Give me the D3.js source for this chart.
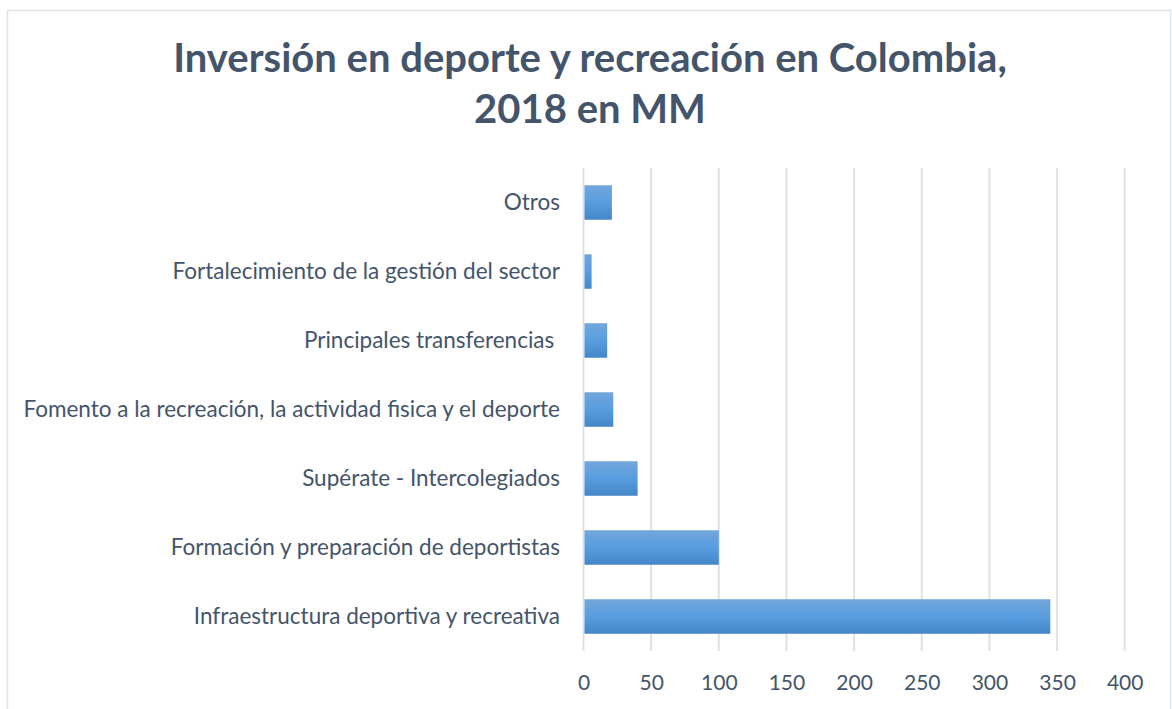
<!DOCTYPE html>
<html>
<head>
<meta charset="utf-8">
<script src="https://cdn.jsdelivr.net/npm/d3@7"></script>
<style>
  html, body { margin: 0; padding: 0; background: #fff; }
  svg { display: block; }
  text { font-family: Lato, "Open Sans", "Noto Sans", sans-serif; }
</style>
</head>
<body>
<svg id="chart" width="1172" height="709"></svg>
<script>
// Inversión por programa, 2018 (miles de millones de pesos)
const categories = [
  "Otros",
  "Fortalecimiento de la gestión del sector",
  "Principales transferencias ",
  "Fomento a la recreación, la actividad fisica y el deporte",
  "Supérate - Intercolegiados",
  "Formación y preparación de deportistas",
  "Infraestructura deportiva y recreativa"
];
const values = [21, 6, 17.5, 22, 40, 100, 345];
const xTicks = [0, 50, 100, 150, 200, 250, 300, 350, 400];
const titleLines = ["Inversión en deporte y recreación en Colombia,", "2018 en MM"];

const svg = d3.select("#chart");
const textColor = "#44546a";
const gridColor = "#dde1e8";

// chart frame
svg.append("rect")
  .attr("x", 7.5).attr("y", 10.5)
  .attr("width", 1163).attr("height", 720)
  .attr("fill", "#fff")
  .attr("stroke", "#dfe3ea").attr("stroke-width", 1.5);

const plot = { left: 583.5, right: 1124.7, top: 168, bottom: 651 };

const x = d3.scaleLinear().domain([0, 400]).range([plot.left, plot.right]);
const y = d3.scaleBand().domain(categories).range([plot.top, plot.bottom]).paddingInner(0.5).paddingOuter(0.25);

// bar gradient
const defs = svg.append("defs");
const grad = defs.append("linearGradient").attr("id", "barGrad")
  .attr("x1", 0).attr("y1", 0).attr("x2", 0).attr("y2", 1);
grad.append("stop").attr("offset", "0%").attr("stop-color", "#73a6dc");
grad.append("stop").attr("offset", "50%").attr("stop-color", "#589ddf");
grad.append("stop").attr("offset", "100%").attr("stop-color", "#4387c8");

// vertical gridlines
svg.append("g")
  .selectAll("line")
  .data(xTicks)
  .join("line")
  .attr("x1", d => x(d)).attr("x2", d => x(d))
  .attr("y1", plot.top).attr("y2", plot.bottom)
  .attr("stroke", gridColor).attr("stroke-width", 2);

// bars
svg.append("g")
  .selectAll("rect")
  .data(categories.map((c, i) => ({ c, v: values[i] })))
  .join("rect")
  .attr("x", x(0) + 1)
  .attr("y", d => y(d.c))
  .attr("width", d => x(d.v) - x(0) - 1)
  .attr("height", y.bandwidth())
  .attr("fill", "url(#barGrad)");

// x axis labels
const xAxis = d3.axisBottom(x).tickValues(xTicks).tickSize(0).tickPadding(0);
const gx = svg.append("g")
  .attr("transform", `translate(0, ${plot.bottom})`)
  .call(xAxis);
gx.select(".domain").remove();
gx.selectAll("text")
  .attr("y", 39)
  .attr("dy", 0)
  .attr("fill", textColor)
  .style("font-size", "21px")
  .style("font-family", "Lato, 'Open Sans', sans-serif");

// category labels
const yAxis = d3.axisLeft(y).tickSize(0).tickPadding(0);
const gy = svg.append("g")
  .attr("transform", `translate(560, 0)`)
  .call(yAxis);
gy.select(".domain").remove();
gy.selectAll("text")
  .attr("x", 0)
  .attr("dy", "0.35em")
  .attr("fill", textColor)
  .style("white-space", "pre")
  .style("font-size", "22.5px")
  .style("font-family", "Lato, 'Open Sans', sans-serif");

// title
svg.append("text")
  .attr("text-anchor", "middle")
  .attr("fill", textColor)
  .style("font-size", "40px")
  .style("font-weight", "bold")
  .selectAll("tspan")
  .data(titleLines)
  .join("tspan")
  .attr("x", 590)
  .attr("y", (d, i) => 72 + i * 51)
  .text(d => d);
</script>
</body>
</html>
